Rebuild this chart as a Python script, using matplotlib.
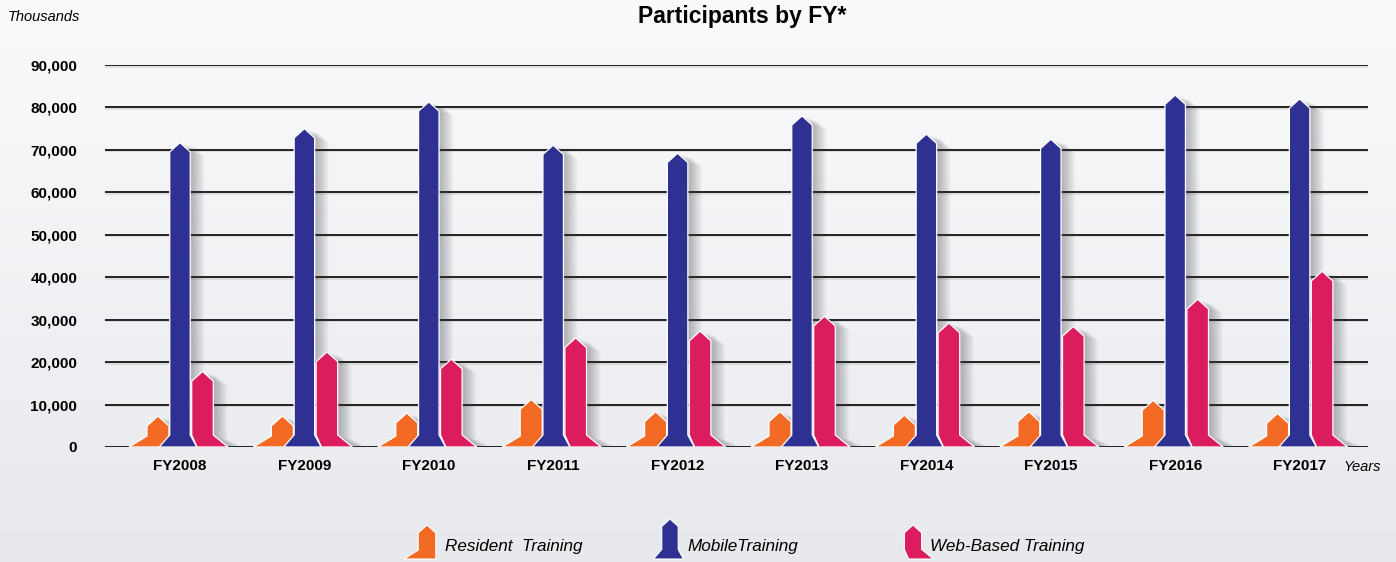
import numpy as np
import matplotlib
matplotlib.use("Agg")
import matplotlib.pyplot as plt
from matplotlib.patches import Polygon

plt.rcParams['font.family'] = ['Liberation Sans Narrow', 'Liberation Sans', 'DejaVu Sans']

# data (thousands of participants)
years = ['FY2008', 'FY2009', 'FY2010', 'FY2011', 'FY2012',
         'FY2013', 'FY2014', 'FY2015', 'FY2016', 'FY2017']
resident = [7300, 7300, 8000, 11200, 8300, 8300, 7500, 8300, 11000, 7900]
mobile = [71700, 75000, 81300, 71100, 69200, 78000, 73700, 72500, 82900, 82000]
web = [17800, 22400, 20700, 25700, 27300, 30800, 29200, 28400, 34800, 41400]

series_names = ['Resident  Training', 'MobileTraining', 'Web-Based Training']
colors = ['#f36a24', '#2e3191', '#db1c5e']

W, H = 1396, 562
STEP = 124.4          # px between groups
PX_PER_10K = 42.44    # px per 10,000

# bar shape styles: offset from group centre, body width, left/right base flare, flare height
shapes = [
    dict(off=-22.0, w=22.0, ldx=18.0, rdx=0.0, fh=11.0),
    dict(off=0.0, w=20.5, ldx=10.5, rdx=6.5, fh=12.0),
    dict(off=22.5, w=21.6, ldx=-5.3, rdx=14.7, fh=12.0),
]


def shape_px(b, h, s, scale=1.0):
    w = s['w'] * scale
    ldx = s['ldx'] * scale
    rdx = s['rdx'] * scale
    fh = s['fh'] * scale
    tip = w * 0.45
    return np.array([
        (b - w / 2 - ldx, 0), (b - w / 2, fh), (b - w / 2, h - tip), (b, h),
        (b + w / 2, h - tip), (b + w / 2, fh), (b + w / 2 + rdx, 0)])


fig = plt.figure(figsize=(W / 100, H / 100), dpi=100)

# background gradient + overlay axes in pixel coords
bg = fig.add_axes([0, 0, 1, 1], zorder=-10)
grad = np.linspace(0, 1, 256).reshape(-1, 1)
top = np.array([0.980, 0.982, 0.988])
bot = np.array([0.910, 0.914, 0.930])
img = top + (bot - top) * grad[..., None]
bg.imshow(img, aspect='auto', extent=[0, W, H, 0])
bg.set_xlim(0, W)
bg.set_ylim(H, 0)
bg.axis('off')

ax = fig.add_axes([105 / W, (H - 447) / H, (1368 - 105) / W, (447 - 65) / H])
ax.patch.set_alpha(0)
ax.set_xlim((105 - 180) / STEP, (1368 - 180) / STEP)
ax.set_ylim(0, 90000)
for sp in ax.spines.values():
    sp.set_visible(False)

ax.set_yticks(range(0, 90001, 10000))
ax.set_yticklabels([f"{v:,}" for v in range(0, 90001, 10000)],
                   fontsize=11, fontweight='bold')
ax.set_xticks(range(len(years)))
ax.set_xticklabels(years, fontsize=11, fontweight='bold')
ax.tick_params(axis='y', length=0, pad=20)
ax.tick_params(axis='x', length=0, pad=9)
ax.yaxis.grid(True, color='#222222', linewidth=1.4)
ax.set_axisbelow(True)

# soft shadow under the gridlines
for v in range(0, 90001, 10000):
    ax.axhline(v - 1.6 * 10000 / PX_PER_10K, color='#9a9a9a', lw=1.4, alpha=0.25, zorder=0.4)

sx = 1 / STEP
sy = 10000 / PX_PER_10K
all_series = [resident, mobile, web]
order = [0, 2, 1]
for k in order:
    s = shapes[k]
    for i, v in enumerate(all_series[k]):
        h = v / sy
        pts = shape_px(s['off'], h, s)
        for j in range(7):
            sh = pts + np.array([3 + 1.8 * j, -1.0 - 0.6 * j])
            ax.add_patch(Polygon(np.c_[i + sh[:, 0] * sx, np.maximum(sh[:, 1], 0) * sy],
                                 closed=True, facecolor='#404048', edgecolor='none',
                                 alpha=0.055, zorder=1))
for k in order:
    s = shapes[k]
    for i, v in enumerate(all_series[k]):
        h = v / sy
        pts = shape_px(s['off'], h, s)
        ax.add_patch(Polygon(np.c_[i + pts[:, 0] * sx, pts[:, 1] * sy], closed=True,
                             facecolor=colors[k], edgecolor='white', linewidth=0.9,
                             zorder=2 + (1 if k == 1 else 0)))

# texts
fig.text(742 / W, 1 - 17 / H, 'Participants by FY*', ha='center', va='center',
         fontsize=16.5, fontweight='bold')
fig.text(8 / W, 1 - 17 / H, 'Thousands', ha='left', va='center',
         fontsize=10.5, style='italic')
fig.text(1343 / W, 1 - 467 / H, 'Years', ha='left', va='center',
         fontsize=10.5, style='italic')

# legend with miniature bar shapes
legend_icon_x = [427, 670, 913]
legend_text_x = [445, 687, 930]
for k in range(3):
    s = shapes[k]
    pts = shape_px(legend_icon_x[k], 34 if k != 1 else 40, s, scale=0.8)
    bg.add_patch(Polygon(np.c_[pts[:, 0], 559 - pts[:, 1]], closed=True,
                         facecolor=colors[k], edgecolor='white', linewidth=0.8))
    bg.text(legend_text_x[k], 547, series_names[k], ha='left', va='center',
            fontsize=12.3, style='italic')

fig.savefig('out.png', dpi=100)
